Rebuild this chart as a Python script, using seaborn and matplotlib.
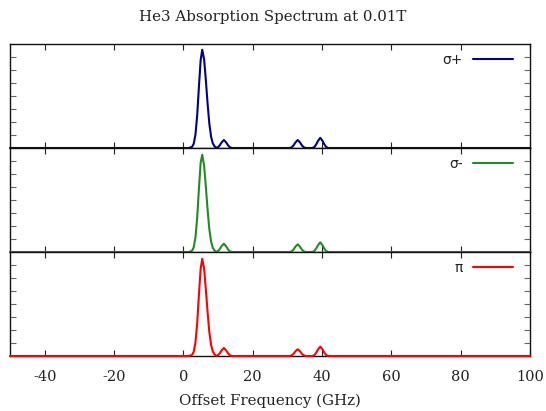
import matplotlib
matplotlib.use("Agg")
import matplotlib.pyplot as plt
import seaborn as sns
import pandas as pd

# Offset frequency samples (GHz) and absorption per polarisation (arb. units)
freq = [-50, 1.5, 2.5, 3.0, 3.5, 4.0, 4.5, 5.0, 5.45, 6.0, 6.5, 7.0, 7.5, 8.0,
        8.5, 9.1, 9.6, 10.0, 10.5, 11.0, 11.7, 12.4, 12.9, 13.4, 14.0,
        30.7, 31.3, 31.8, 32.3, 33.0, 33.7, 34.2, 34.7, 35.3,
        37.2, 37.8, 38.3, 38.8, 39.5, 40.2, 40.7, 41.2, 41.8, 100]

sigma_plus = [0, 0, 0.010, 0.041, 0.130, 0.315, 0.590, 0.846, 0.945, 0.850,
              0.650, 0.425, 0.234, 0.110, 0.044, 0.012, 0.002, 0.008, 0.025,
              0.052, 0.077, 0.052, 0.025, 0.008, 0,
              0, 0.008, 0.025, 0.052, 0.077, 0.052, 0.025, 0.008, 0,
              0, 0.010, 0.033, 0.066, 0.098, 0.066, 0.033, 0.010, 0, 0]

sigma_minus = [0, 0, 0.011, 0.045, 0.140, 0.330, 0.610, 0.860, 0.935, 0.830,
               0.625, 0.405, 0.220, 0.102, 0.040, 0.011, 0.002, 0.009, 0.027,
               0.055, 0.080, 0.052, 0.024, 0.007, 0,
               0, 0.008, 0.024, 0.050, 0.074, 0.049, 0.023, 0.007, 0,
               0, 0.010, 0.032, 0.063, 0.093, 0.062, 0.030, 0.009, 0, 0]

pi_line = [0, 0, 0.010, 0.041, 0.130, 0.315, 0.590, 0.840, 0.935, 0.840,
           0.640, 0.420, 0.230, 0.108, 0.043, 0.012, 0.002, 0.008, 0.025,
           0.052, 0.077, 0.052, 0.025, 0.008, 0,
           0, 0.007, 0.021, 0.044, 0.065, 0.044, 0.021, 0.007, 0,
           0, 0.009, 0.030, 0.061, 0.090, 0.061, 0.030, 0.009, 0, 0]

labels = ["σ+", "σ-", "π"]
colors = ["#00008B", "#228B22", "#FF0000"]
series = [sigma_plus, sigma_minus, pi_line]

x_ticks = [-40, -20, 0, 20, 40, 60, 80, 100]
y_minor = [0.125, 0.25, 0.375, 0.5, 0.625, 0.75, 0.875]

sns.set_style("white")
plt.rcParams["font.family"] = ["DejaVu Serif"]
plt.rcParams["axes.unicode_minus"] = False

W, H = 546, 411
fig = plt.figure(figsize=(W / 100, H / 100), dpi=100)

left, right = 10, 530
tops = [44, 148, 252]
panel_h = 104

axes = []
for i, (vals, lab, col) in enumerate(zip(series, labels, colors)):
    top = tops[i]
    ax = fig.add_axes([left / W, 1 - (top + panel_h) / H,
                       (right - left) / W, panel_h / H])
    df = pd.DataFrame({"freq": freq, "absorption": vals})
    sns.lineplot(data=df, x="freq", y="absorption", ax=ax, color=col,
                 linewidth=1.5, label=lab, estimator=None, sort=True)
    for ln in ax.lines:
        ln.set_zorder(3)
        ln.set_clip_on(False)
    ax.set_xlim(-50, 100)
    ax.set_ylim(0, 1)
    ax.set_xlabel("")
    ax.set_ylabel("")
    ax.set_xticks(x_ticks)
    ax.set_yticks(y_minor)
    ax.set_yticklabels([])
    ax.tick_params(axis="x", direction="in", top=True, bottom=True,
                   length=4, width=0.8, color="#222222")
    ax.tick_params(axis="y", direction="in", left=True, right=True,
                   length=4, width=0.8, color="#666666")
    for sp in ax.spines.values():
        sp.set_color("#111111")
        sp.set_linewidth(1.0)
    if i < 2:
        ax.set_xticklabels([])
    else:
        ax.tick_params(axis="x", labelsize=10.5, pad=10, labelcolor="#222222")
        ax.set_xlabel("Offset Frequency (GHz)", fontsize=10.8, labelpad=7,
                      color="#222222")
    leg = ax.legend(loc="upper right", bbox_to_anchor=(0.967, 0.91),
                    frameon=False, markerfirst=False, handlelength=2.9,
                    handletextpad=0.7, borderpad=0, borderaxespad=0,
                    prop={"family": "DejaVu Sans", "size": 10})
    for t in leg.get_texts():
        t.set_color("#222222")
    axes.append(ax)

fig.suptitle("He3 Absorption Spectrum at 0.01T", fontsize=10.8, y=1 - 17 / H,
             va="center", color="#222222")

fig.savefig("out.png", dpi=100)
